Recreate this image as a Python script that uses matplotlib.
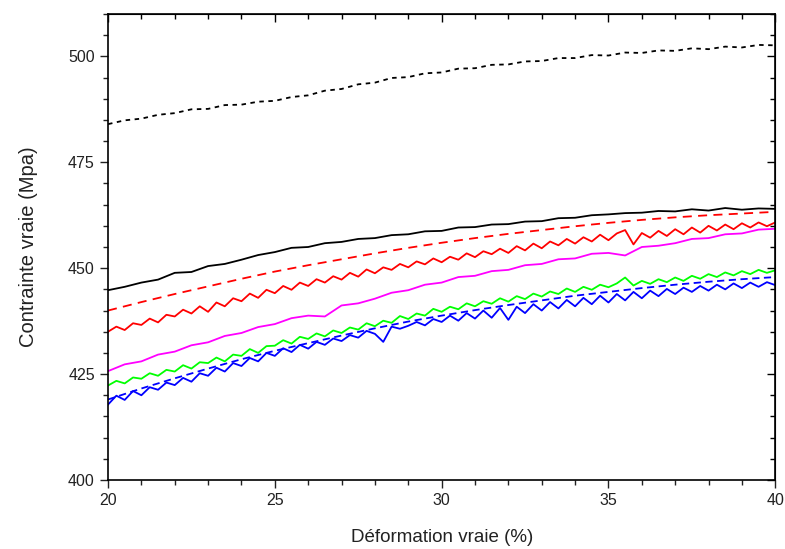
import numpy as np
import matplotlib
matplotlib.use("Agg")
import matplotlib.pyplot as plt
from matplotlib.ticker import MultipleLocator

# strain grids (%)
x_fine = np.arange(20, 40.001, 0.25)
x_half = np.arange(20, 40.001, 0.5)
x_unit = np.arange(20, 40.001, 1.0)

# true stress (MPa)
black_dash = [484.0, 484.9, 485.3, 486.2, 486.6, 487.5, 487.6, 488.5, 488.6, 489.3,
              489.5, 490.4, 490.8, 491.9, 492.3, 493.4, 493.8, 494.9, 495.1, 496.0,
              496.2, 497.1, 497.2, 498.0, 498.1, 498.8, 498.9, 499.6, 499.6, 500.3,
              500.2, 500.9, 500.8, 501.4, 501.3, 501.9, 501.7, 502.3, 502.1, 502.7,
              502.6]

black = [444.8, 445.6, 446.6, 447.3, 448.9, 449.1, 450.5, 451.0, 452.0, 453.1,
         453.8, 454.8, 455.0, 455.9, 456.2, 456.9, 457.1, 457.8, 458.0, 458.7,
         458.8, 459.6, 459.7, 460.3, 460.4, 461.0, 461.1, 461.8, 461.9, 462.5,
         462.7, 463.0, 463.1, 463.5, 463.4, 463.9, 463.6, 464.2, 463.8, 464.1,
         464.0]

red_dash = [440.0, 442.0, 443.9, 445.7, 447.5, 449.2, 450.7, 452.1, 453.5, 454.8,
            456.0, 457.1, 458.1, 459.0, 459.9, 460.7, 461.4, 462.0, 462.5, 462.9,
            463.3]

red = [435.0, 436.2, 435.4, 437.0, 436.6, 438.1, 437.2, 439.0, 438.6, 440.2,
       439.3, 441.0, 439.7, 441.9, 441.0, 442.9, 442.2, 444.0, 443.0, 444.9,
       444.1, 445.8, 444.9, 446.6, 445.8, 447.4, 446.6, 448.1, 447.3, 448.9,
       448.0, 449.7, 448.8, 450.2, 449.6, 451.0, 450.2, 451.6, 450.9, 452.3,
       451.4, 452.7, 452.0, 453.5, 452.6, 454.0, 453.3, 454.6, 453.6, 455.2,
       454.2, 455.8, 454.7, 456.3, 455.4, 456.9, 455.8, 457.3, 456.3, 457.9,
       456.6, 458.2, 459.0, 455.6, 458.3, 457.2, 458.8, 457.6, 459.2, 458.0,
       459.6, 458.4, 460.0, 458.9, 460.3, 459.2, 460.6, 459.6, 460.8, 459.9,
       460.8]

magenta = [425.7, 427.3, 428.0, 429.6, 430.3, 431.8, 432.5, 434.0, 434.7, 436.1,
           436.8, 438.2, 438.8, 438.6, 441.2, 441.7, 442.8, 444.2, 444.8, 446.1,
           446.6, 447.9, 448.2, 449.3, 449.6, 450.7, 451.0, 452.1, 452.3, 453.4,
           453.6, 453.0, 455.0, 455.3, 455.9, 456.9, 457.1, 458.0, 458.2, 459.1,
           459.3]

green = [422.3, 423.4, 422.8, 424.2, 423.9, 425.2, 424.6, 426.0, 425.6, 427.1,
         426.3, 427.8, 427.6, 428.9, 428.0, 429.6, 429.3, 430.9, 430.0, 431.6,
         431.7, 433.0, 432.2, 433.8, 433.3, 434.6, 433.9, 435.3, 434.7, 436.0,
         435.5, 437.0, 436.3, 437.6, 437.1, 438.7, 438.0, 439.3, 438.8, 440.4,
         439.7, 440.9, 440.3, 441.7, 441.0, 442.2, 441.6, 442.9, 442.1, 443.4,
         442.7, 444.0, 443.3, 444.5, 443.9, 445.2, 444.4, 445.6, 444.9, 446.1,
         445.5, 446.4, 447.8, 445.9, 447.0, 446.3, 447.4, 446.7, 447.8, 447.0,
         448.2, 447.5, 448.6, 447.9, 449.0, 448.3, 449.3, 448.6, 449.6, 448.9,
         449.5]

blue_dash = [419.0, 421.6, 424.0, 426.3, 428.5, 430.5, 432.3, 434.1, 435.8, 437.4,
             438.8, 440.1, 441.3, 442.4, 443.5, 444.4, 445.3, 446.1, 446.8, 447.4,
             447.9]

blue = [417.8, 419.9, 418.9, 421.0, 420.0, 421.9, 421.3, 423.0, 422.4, 424.1,
        423.2, 425.2, 424.6, 426.5, 425.6, 427.6, 426.9, 428.8, 428.0, 430.0,
        429.3, 431.1, 430.2, 431.9, 431.0, 432.6, 431.9, 433.4, 432.8, 434.2,
        433.6, 435.2, 434.5, 432.6, 436.2, 435.7, 436.4, 437.3, 436.5, 438.0,
        437.3, 438.8, 437.6, 439.4, 438.1, 440.0, 438.3, 440.6, 437.8, 440.9,
        439.4, 441.5, 440.0, 442.0, 440.5, 442.5, 441.0, 443.0, 441.5, 443.5,
        441.9, 443.9, 442.4, 444.4, 442.9, 444.7, 443.4, 445.1, 443.9, 445.4,
        444.4, 445.8, 444.7, 446.1, 445.0, 446.4, 445.3, 446.6, 445.6, 446.7,
        446.0]

plt.rcParams['font.family'] = ['Liberation Sans', 'DejaVu Sans']

fig = plt.figure(figsize=(7.85, 5.49), dpi=100)
ax = fig.add_axes([0.1376, 0.1257, 0.8500, 0.8488])

lw = 1.3
ax.plot(x_half, black_dash, color='black', lw=lw, dashes=(2.5, 2.5))
ax.plot(x_half, black, color='black', lw=lw)
ax.plot(x_unit, red_dash, color='#ff0000', lw=lw, dashes=(5, 3.5))
ax.plot(x_fine, red, color='#ff0000', lw=lw)
ax.plot(x_half, magenta, color='#ff00ff', lw=lw)
ax.plot(x_fine, green, color='#00ff00', lw=lw)
ax.plot(x_unit, blue_dash, color='#0000ff', lw=lw, dashes=(4, 2.5))
ax.plot(x_fine, blue, color='#0000ff', lw=lw)

ax.set_xlim(20, 40)
ax.set_ylim(400, 510)
ax.xaxis.set_major_locator(MultipleLocator(5))
ax.xaxis.set_minor_locator(MultipleLocator(1))
ax.yaxis.set_major_locator(MultipleLocator(25))
ax.yaxis.set_minor_locator(MultipleLocator(5))

ax.tick_params(which='both', direction='out', top=False, right=False,
               labelsize=11.5, width=1.0, colors='#222222')
ax.tick_params(which='major', length=6)
ax.tick_params(which='minor', length=3.5)

# mirrored ticks on top/right pointing inward
sec_x = ax.secondary_xaxis('top')
sec_x.xaxis.set_major_locator(MultipleLocator(5))
sec_x.xaxis.set_minor_locator(MultipleLocator(1))
sec_x.tick_params(which='both', direction='in', labeltop=False, width=1.0)
sec_x.tick_params(which='major', length=6)
sec_x.tick_params(which='minor', length=3.5)
sec_y = ax.secondary_yaxis('right')
sec_y.yaxis.set_major_locator(MultipleLocator(25))
sec_y.yaxis.set_minor_locator(MultipleLocator(5))
sec_y.tick_params(which='both', direction='in', labelright=False, width=1.0)
sec_y.tick_params(which='major', length=6)
sec_y.tick_params(which='minor', length=3.5)

for sp in ax.spines.values():
    sp.set_linewidth(1.2)

ax.set_xlabel('Déformation vraie (%)', fontsize=13.5, labelpad=15, color='#222222')
ax.set_ylabel('Contrainte vraie (Mpa)', fontsize=14.5, labelpad=22, color='#222222')

fig.savefig('out.png', dpi=100)
